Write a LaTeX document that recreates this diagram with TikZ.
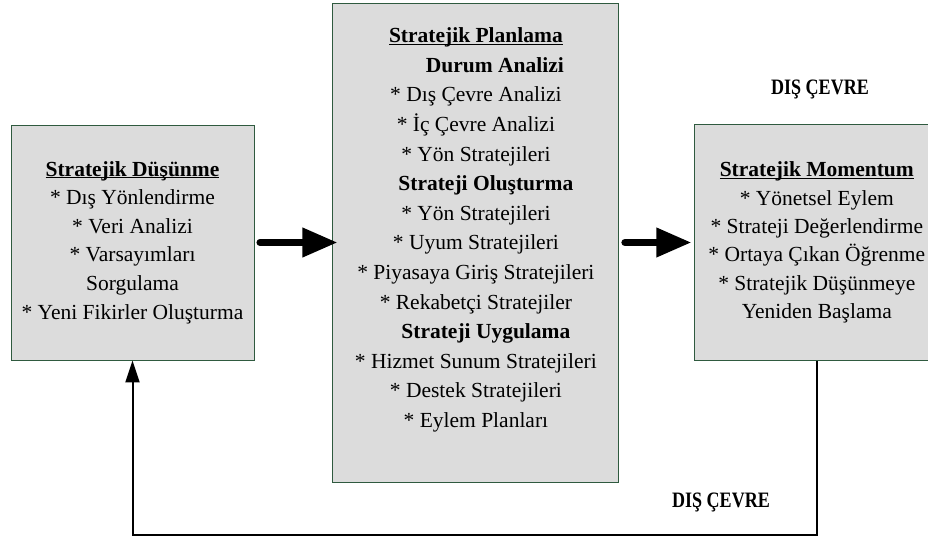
\documentclass[tikz,border=0pt]{standalone}
\usepackage{fontspec}
\setmainfont{Liberation Serif}
\usetikzlibrary{arrows.meta, positioning}
\definecolor{mframe}{HTML}{2F5A3F}
\definecolor{mfill}{HTML}{DCDCDC}
\newcommand{\mhead}[1]{\setbox0\hbox{\textbf{#1}}\rlap{\rule[-2.2pt]{\wd0}{1.2pt}}\box0}
\tikzstyle{stage} = [rectangle, draw=mframe, line width=0.9pt, fill=mfill, text centered, font=\fontsize{21.5}{28.6}\selectfont]
\tikzstyle{push} = [line width=7pt, line cap=round, -{Triangle[length=35pt,width=28pt]}]
\tikzstyle{loopback} = [line width=2pt, -{Triangle[length=22pt,width=14pt]}]
\tikzstyle{outside} = [font=\fontsize{22}{26}\selectfont\bfseries]

\begin{document}
\begin{tikzpicture}[align=center, x=1pt, y=1pt]
  \useasboundingbox (0,0) rectangle (928,543);
  \node (think) [stage, minimum width=243pt, minimum height=235pt] at (132.5,300.5)
    {\mhead{Stratejik Düşünme}\\ * Dış Yönlendirme\\ * Veri Analizi\\ * Varsayımları\\ Sorgulama\\ * Yeni Fikirler Oluşturma};
  \node (plan) [stage, font=\fontsize{21.5}{29.6}\selectfont, minimum width=286pt, minimum height=479pt, right=78pt of think]
    {\mhead{Stratejik Planlama}\\
     \hspace*{38pt}\textbf{Durum Analizi}\\
     * Dış Çevre Analizi\\
     * İç Çevre Analizi\\
     * Yön Stratejileri\\
     \hspace*{20pt}\textbf{Strateji Oluşturma}\\
     * Yön Stratejileri\\
     * Uyum Stratejileri\\
     * Piyasaya Giriş Stratejileri\\
     * Rekabetçi Stratejiler\\
     \hspace*{20pt}\textbf{Strateji Uygulama}\\
     * Hizmet Sunum Stratejileri\\
     * Destek Stratejileri\\
     * Eylem Planları\\
     \mbox{}};
  \node (mom) [stage, font=\fontsize{21.5}{28.3}\selectfont, minimum width=244pt, minimum height=236pt, right=75pt of plan]
    {\mhead{Stratejik Momentum}\\ * Yönetsel Eylem\\ * Strateji Değerlendirme\\ * Ortaya Çıkan Öğrenme\\ * Stratejik Düşünmeye\\ Yeniden Başlama};
  \node (env1) [outside] at (820,454) {\scalebox{0.82}[1]{DIŞ ÇEVRE}};
  \node (env2) [outside] at (721,41) {\scalebox{0.82}[1]{DIŞ ÇEVRE}};
  \coordinate (loop) at (0,8);
  \draw [push, shorten <=5.5pt, shorten >=-5pt] (think) -- (plan);
  \draw [push, shorten <=5.5pt, shorten >=3pt] (plan.east |- mom.west) -- (mom);
  \draw [loopback] (mom.south) -- (mom.south |- loop) -| (think.south);
\end{tikzpicture}
\end{document}
